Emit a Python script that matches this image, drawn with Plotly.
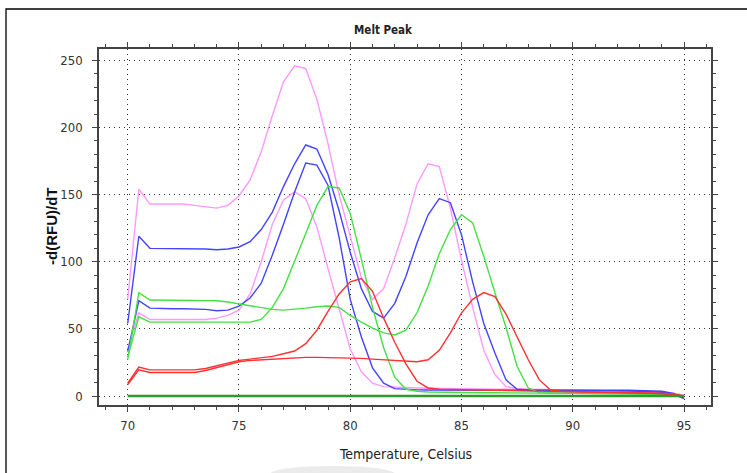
import plotly.graph_objects as go

temps = [70, 70.5, 71, 71.5, 72, 72.5, 73, 73.5, 74, 74.5,
         75, 75.5, 76, 76.5, 77, 77.5, 78, 78.5, 79, 79.5,
         80, 80.5, 81, 81.5, 82, 82.5, 83, 83.5, 84, 84.5,
         85, 85.5, 86, 86.5, 87, 87.5, 88, 88.5, 89, 89.5,
         90, 90.5, 91, 91.5, 92, 92.5, 93, 93.5, 94, 94.5, 95]

pink_high = [72, 154, 143, 143, 143, 143, 142, 141, 140, 142,
             149, 161, 182, 209, 234, 246, 244, 221, 188, 150,
             118, 88, 72, 80, 103, 128, 158, 173, 171, 140,
             101, 66, 34, 16, 7, 5.5, 5, 5, 4.8, 4.6,
             4.4, 4.2, 4, 3.8, 3.6, 3.4, 3.2, 3, 2.6, 2, 0.5]
pink_low = [35, 62, 57, 57, 57, 57, 57, 57, 58, 60,
            64, 76, 100, 128, 146, 152, 147, 126, 95, 64,
            35, 18, 9.5, 7, 6.5, 6, 6, 5.8, 5.6, 5.5,
            5.4, 5.3, 5.2, 5.1, 5, 5, 4.9, 4.8, 4.7, 4.6,
            4.5, 4.4, 4.3, 4.2, 4, 3.8, 3.6, 3.3, 3, 2.2, 0.5]
blue_high = [54, 119, 110, 110, 110, 110, 110, 109.5, 109, 109.5,
             111, 115, 124, 137, 156, 173, 187, 184, 165, 138,
             107, 80, 63, 58, 69, 89, 114, 135, 147, 144,
             120, 85, 54, 32, 12, 5, 4.6, 4.5, 4.5, 4.5,
             4.5, 4.5, 4.4, 4.4, 4.3, 4.3, 4.2, 4, 3.5, 2, -1.5]
blue_low = [33, 71, 65.5, 65, 65, 65, 65, 64.5, 63.5, 64,
            67, 73, 84, 105, 128, 152, 173.5, 172, 157, 118,
            72, 44, 21, 9.5, 5.5, 4.8, 4.6, 4.5, 4.5, 4.5,
            4.4, 4.4, 4.4, 4.3, 4.3, 4.3, 4.2, 4.2, 4.2, 4.1,
            4.1, 4, 4, 4, 3.9, 3.8, 3.6, 3.3, 2.8, 1.5, -2]
green_high = [27, 77, 71.5, 71.5, 71.5, 71.5, 71.5, 71, 71, 70,
              68.5, 67, 65.5, 64.5, 64, 64.5, 65.5, 66.5, 67, 66,
              60, 55, 50.5, 47, 45.5, 49, 62, 82, 106, 124,
              135, 129, 104, 77, 51, 22, 6, 2.5, 2, 2,
              2, 2, 1.9, 1.9, 1.8, 1.8, 1.7, 1.6, 1.5, 1, 0]
green_low = [29, 59, 55, 55, 55, 55, 55, 55, 55, 55,
             55, 55, 57, 66, 80, 100, 121, 142, 156, 155,
             136, 102, 66, 36, 14, 5, 3.5, 3, 2.8, 2.7,
             2.6, 2.5, 2.4, 2.4, 2.3, 2.3, 2.2, 2.2, 2.1, 2.1,
             2, 2, 2, 1.9, 1.9, 1.8, 1.7, 1.6, 1.4, 1, 0]
red_a = [9.5, 21.5, 19.5, 19.5, 19.5, 19.5, 19.5, 20.5, 22.5, 24.5,
         26.5, 27.5, 28.5, 29.5, 31.5, 33.5, 39, 49, 63, 76,
         85, 87.5, 78, 58, 40, 24, 11, 6, 5, 4.8,
         4.6, 4.4, 4.2, 4, 3.8, 3.6, 3.5, 3.4, 3.3, 3.2,
         3.1, 3, 2.9, 2.8, 2.6, 2.4, 2.2, 2, 1.6, 1, 0]
red_b = [8.5, 19.5, 17.5, 17.5, 17.5, 17.5, 17.5, 19, 21, 23.5,
         25.5, 26.5, 27, 27.8, 28.3, 28.6, 28.8, 28.8, 28.7, 28.5,
         28.3, 28, 27.5, 27, 26, 25.5, 25.5, 27, 34, 47,
         62, 72, 77, 74, 61, 44, 27, 12, 4.5, 3.5,
         3.2, 3, 3, 2.9, 2.8, 2.7, 2.6, 2.4, 2, 1.5, 0]
ntc = [0] * len(temps)

series = [
    ("pink_high", pink_high, "#ff99ff"),
    ("pink_low", pink_low, "#ff99ff"),
    ("blue_high", blue_high, "#4444ff"),
    ("blue_low", blue_low, "#4444ff"),
    ("green_high", green_high, "#44e044"),
    ("green_low", green_low, "#44e044"),
    ("red_a", red_a, "#ff3030"),
    ("red_b", red_b, "#ff3030"),
]

NARROW = "Liberation Sans Narrow, Arial Narrow, DejaVu Sans Condensed, sans-serif"

fig = go.Figure()
for name, vals, col in series:
    fig.add_trace(go.Scatter(x=temps, y=vals, mode="lines", name=name,
                             line=dict(color=col, width=1.4), showlegend=False))
fig.add_trace(go.Scatter(x=temps, y=ntc, mode="lines", name="ntc",
                         line=dict(color="#2e992e", width=2.6), showlegend=False))

axis_common = dict(
    showline=True, linecolor="#444444", linewidth=1.5, mirror="allticks",
    ticks="outside", ticklen=5, tickwidth=1.2, tickcolor="#444444",
    showgrid=True, gridcolor="#333333", gridwidth=1, griddash="1px,4px",
    zeroline=False,
    tickfont=dict(family=NARROW, size=13, color="#333333"),
    minor=dict(ticks="outside", ticklen=3, tickcolor="#444444", showgrid=False),
)

fig.update_layout(
    width=747, height=473,
    margin=dict(l=99, r=36, t=49, b=68),
    paper_bgcolor="white", plot_bgcolor="white",
    title=dict(text="<b>Melt Peak</b>", x=383 / 747, xanchor="center",
               y=1 - 30 / 473, yanchor="middle",
               font=dict(family=NARROW, size=11.5, color="#222222")),
    xaxis=dict(range=[68.71, 96.21], tickvals=[70, 75, 80, 85, 90, 95],
               ticktext=["70", "75", "80", "85", "90", "95"],
               minor_dtick=1, ticklabelstandoff=3, **axis_common),
    yaxis=dict(range=[-6.7, 258.5], tickvals=[0, 50, 100, 150, 200, 250],
               ticktext=["0", "50", "100", "150", "200", "250"],
               minor_dtick=10, ticklabelstandoff=7, **axis_common),
    annotations=[
        dict(text="<b>-d(RFU)/dT</b>", xref="paper", yref="paper",
             x=(51 - 99) / 612, y=0.5, textangle=-90, showarrow=False,
             xanchor="center", yanchor="middle",
             font=dict(family="Liberation Sans, Arial, sans-serif", size=15, color="#111111")),
        dict(text="Temperature, Celsius", xref="paper", yref="paper",
             x=0.5, y=(405 - 454) / 356, showarrow=False,
             xanchor="center", yanchor="middle",
             font=dict(family=NARROW, size=14, color="#222222")),
    ],
    shapes=[
        dict(type="rect", xref="paper", yref="paper",
             x0=(6 - 99) / 612, x1=2.0, y0=-2.0, y1=(405 - 9) / 356,
             line=dict(color="black", width=1.3), fillcolor="rgba(0,0,0,0)"),
        dict(type="circle", xref="paper", yref="paper",
             x0=(270 - 99) / 612, x1=(395 - 99) / 612,
             y0=(405 - 482) / 356, y1=(405 - 466) / 356,
             line=dict(width=0), fillcolor="rgba(0,0,0,0.08)"),
    ],
)

fig.write_html("out.html")
